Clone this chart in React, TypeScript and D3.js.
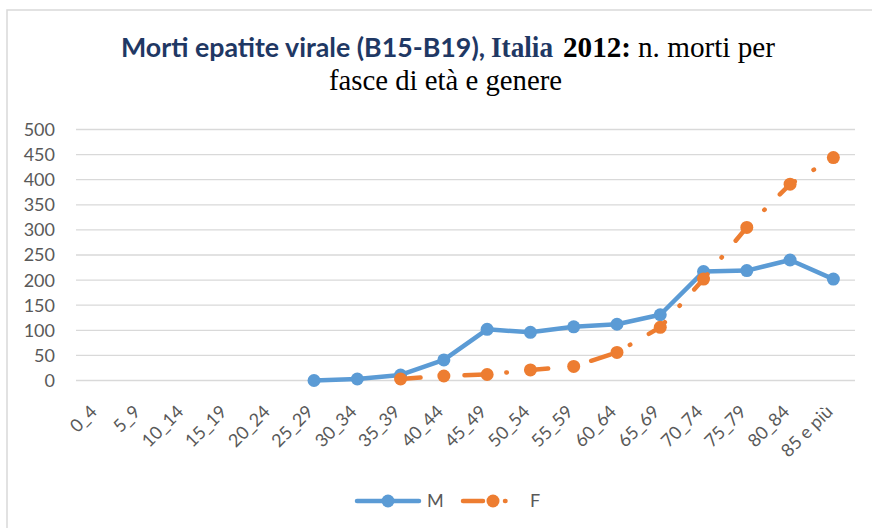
import React from 'react';
import * as d3 from 'd3';

// age groups and deaths per gender (Italy 2012)
const categories = ['0_4', '5_9', '10_14', '15_19', '20_24', '25_29', '30_34', '35_39', '40_44', '45_49', '50_54', '55_59', '60_64', '65_69', '70_74', '75_79', '80_84', '85 e più'];
const maleDeaths: (number | null)[] = [null, null, null, null, null, 0, 3, 11, 41, 102, 96, 107, 112, 131, 217, 219, 240, 202];
const femaleDeaths: (number | null)[] = [null, null, null, null, null, null, null, 3, 9, 12, 21, 28, 56, 106, 202, 305, 391, 444];
const yTicks = [0, 50, 100, 150, 200, 250, 300, 350, 400, 450, 500];

const W = 872;
const H = 528;
const margin = { top: 129.5, right: 17, bottom: 147.5, left: 76 };

const BLUE = '#5B9BD5';
const ORANGE = '#ED7D31';
const GREY = '#595959';
const NAVY = '#1f3864';
const FONT = 'Lato, "Open Sans", sans-serif';
const SERIF = '"Liberation Serif", "Times New Roman", serif';
const DASH = '20 22 0.5 21.5';

export default function App() {
  const x = d3.scaleBand().domain(categories).range([margin.left, W - margin.right]).padding(0);
  const y = d3.scaleLinear().domain([0, 500]).range([H - margin.bottom, margin.top]);
  const cx = (c: string) => (x(c) ?? 0) + x.bandwidth() / 2;

  const line = d3
    .line<[string, number | null]>()
    .defined((d) => d[1] !== null)
    .x((d) => cx(d[0]))
    .y((d) => y(d[1] as number));

  const male = categories.map((c, i) => [c, maleDeaths[i]] as [string, number | null]);
  const female = categories.map((c, i) => [c, femaleDeaths[i]] as [string, number | null]);

  const legendY = 501;

  return (
    <svg width={W} height={H} style={{ position: 'absolute', left: 0, top: 0, background: '#fff' }}>
      {/* chart border */}
      <rect x={7} y={10} width={W + 20} height={H + 20} fill="none" stroke="#d9d9d9" strokeWidth={1.5} />

      {/* title */}
      <text x={121} y={57} fontFamily={FONT} fontWeight="bold" fontSize={27} fill={NAVY} textLength={364} lengthAdjust="spacingAndGlyphs">
        Morti epatite virale (B15-B19),
      </text>
      <text x={491} y={57} fontFamily={SERIF} fontWeight="bold" fontSize={30} fill={NAVY} textLength={62} lengthAdjust="spacingAndGlyphs">
        Italia
      </text>
      <text x={563} y={57} fontFamily={SERIF} fontWeight="bold" fontSize={30} fill="#000" textLength={68} lengthAdjust="spacingAndGlyphs">
        2012:
      </text>
      <text x={638} y={57} fontFamily={SERIF} fontSize={30} fill="#000" textLength={137} lengthAdjust="spacingAndGlyphs">
        n. morti per
      </text>
      <text x={329} y={90} fontFamily={SERIF} fontSize={30} fill="#000" textLength={233} lengthAdjust="spacingAndGlyphs">
        fasce di età e genere
      </text>

      {/* gridlines + y labels */}
      {yTicks.map((t) => (
        <g key={t}>
          <line x1={margin.left} x2={W - margin.right} y1={y(t)} y2={y(t)} stroke="#d9d9d9" strokeWidth={1.3} />
          <text x={55} y={y(t)} dy="0.36em" textAnchor="end" fontFamily={FONT} fontSize={18} fill={GREY}>
            {t}
          </text>
        </g>
      ))}

      {/* x labels */}
      {categories.map((c) => (
        <text
          key={c}
          transform={`translate(${cx(c) - 4},${y(0) + 28}) rotate(-45)`}
          textAnchor="end"
          dy="0.35em"
          fontFamily={FONT}
          fontSize={18}
          fill={GREY}
        >
          {c}
        </text>
      ))}

      {/* male series */}
      <path d={line(male) ?? ''} fill="none" stroke={BLUE} strokeWidth={4.5} strokeLinejoin="round" strokeLinecap="round" />
      {male.filter((d) => d[1] !== null).map((d) => (
        <circle key={'m' + d[0]} cx={cx(d[0])} cy={y(d[1] as number)} r={6.5} fill={BLUE} />
      ))}

      {/* female series */}
      <path d={line(female) ?? ''} fill="none" stroke={ORANGE} strokeWidth={4.5} strokeDasharray={DASH} strokeLinecap="round" />
      {female.filter((d) => d[1] !== null).map((d) => (
        <circle key={'f' + d[0]} cx={cx(d[0])} cy={y(d[1] as number)} r={6.5} fill={ORANGE} />
      ))}

      {/* legend */}
      <line x1={357} x2={419} y1={legendY} y2={legendY} stroke={BLUE} strokeWidth={4.5} strokeLinecap="round" />
      <circle cx={388} cy={legendY} r={6.5} fill={BLUE} />
      <text x={427} y={legendY} dy="0.36em" fontFamily={FONT} fontSize={18} fill={GREY}>M</text>
      <line x1={463} x2={512} y1={legendY} y2={legendY} stroke={ORANGE} strokeWidth={4.5} strokeDasharray={DASH} strokeLinecap="round" />
      <circle cx={493} cy={legendY} r={6.5} fill={ORANGE} />
      <text x={530} y={legendY} dy="0.36em" fontFamily={FONT} fontSize={18} fill={GREY}>F</text>
    </svg>
  );
}
